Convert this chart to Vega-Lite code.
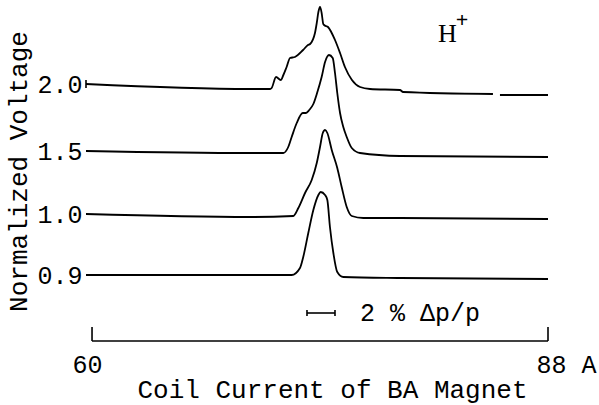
{
  "$schema": "https://vega.github.io/schema/vega-lite/v6.json",
  "width": 462,
  "height": 341,
  "autosize": "none",
  "padding": {"left": 86, "top": 0, "right": 51, "bottom": 64},
  "background": "white",
  "config": {"view": {"stroke": null}},
  "datasets": {
    "traces": [
      {"trace": "2.0", "seg": "2.0a", "a": 59.63, "v": 257},
      {"trace": "2.0", "seg": "2.0a", "a": 69.70, "v": 252},
      {"trace": "2.0", "seg": "2.0a", "a": 70.93, "v": 252},
      {"trace": "2.0", "seg": "2.0a", "a": 71.03, "v": 253},
      {"trace": "2.0", "seg": "2.0a", "a": 71.30, "v": 264},
      {"trace": "2.0", "seg": "2.0a", "a": 71.59, "v": 261},
      {"trace": "2.0", "seg": "2.0a", "a": 71.75, "v": 266},
      {"trace": "2.0", "seg": "2.0a", "a": 71.95, "v": 274},
      {"trace": "2.0", "seg": "2.0a", "a": 72.16, "v": 283},
      {"trace": "2.0", "seg": "2.0a", "a": 72.46, "v": 284},
      {"trace": "2.0", "seg": "2.0a", "a": 72.96, "v": 291},
      {"trace": "2.0", "seg": "2.0a", "a": 73.26, "v": 296},
      {"trace": "2.0", "seg": "2.0a", "a": 73.39, "v": 297},
      {"trace": "2.0", "seg": "2.0a", "a": 73.69, "v": 308},
      {"trace": "2.0", "seg": "2.0a", "a": 73.80, "v": 318},
      {"trace": "2.0", "seg": "2.0a", "a": 73.90, "v": 329},
      {"trace": "2.0", "seg": "2.0a", "a": 74.00, "v": 334},
      {"trace": "2.0", "seg": "2.0a", "a": 74.10, "v": 328},
      {"trace": "2.0", "seg": "2.0a", "a": 74.20, "v": 317},
      {"trace": "2.0", "seg": "2.0a", "a": 74.25, "v": 316},
      {"trace": "2.0", "seg": "2.0a", "a": 74.49, "v": 314},
      {"trace": "2.0", "seg": "2.0a", "a": 74.92, "v": 301},
      {"trace": "2.0", "seg": "2.0a", "a": 75.23, "v": 288},
      {"trace": "2.0", "seg": "2.0a", "a": 75.53, "v": 274},
      {"trace": "2.0", "seg": "2.0a", "a": 75.96, "v": 261},
      {"trace": "2.0", "seg": "2.0a", "a": 76.46, "v": 254},
      {"trace": "2.0", "seg": "2.0a", "a": 77.07, "v": 252},
      {"trace": "2.0", "seg": "2.0a", "a": 78.91, "v": 251},
      {"trace": "2.0", "seg": "2.0a", "a": 79.10, "v": 249},
      {"trace": "2.0", "seg": "2.0a", "a": 84.62, "v": 247},
      {"trace": "2.0", "seg": "2.0b", "a": 85.05, "v": 246},
      {"trace": "2.0", "seg": "2.0b", "a": 88.00, "v": 246},

      {"trace": "1.5", "seg": "1.5", "a": 59.63, "v": 190},
      {"trace": "1.5", "seg": "1.5", "a": 69.70, "v": 188},
      {"trace": "1.5", "seg": "1.5", "a": 71.75, "v": 188},
      {"trace": "1.5", "seg": "1.5", "a": 72.05, "v": 194},
      {"trace": "1.5", "seg": "1.5", "a": 72.26, "v": 204},
      {"trace": "1.5", "seg": "1.5", "a": 72.57, "v": 218},
      {"trace": "1.5", "seg": "1.5", "a": 72.94, "v": 228},
      {"trace": "1.5", "seg": "1.5", "a": 73.14, "v": 228},
      {"trace": "1.5", "seg": "1.5", "a": 73.34, "v": 231},
      {"trace": "1.5", "seg": "1.5", "a": 73.59, "v": 237},
      {"trace": "1.5", "seg": "1.5", "a": 73.82, "v": 248},
      {"trace": "1.5", "seg": "1.5", "a": 74.10, "v": 264},
      {"trace": "1.5", "seg": "1.5", "a": 74.31, "v": 279},
      {"trace": "1.5", "seg": "1.5", "a": 74.55, "v": 286},
      {"trace": "1.5", "seg": "1.5", "a": 74.78, "v": 283},
      {"trace": "1.5", "seg": "1.5", "a": 74.92, "v": 268},
      {"trace": "1.5", "seg": "1.5", "a": 75.06, "v": 248},
      {"trace": "1.5", "seg": "1.5", "a": 75.23, "v": 228},
      {"trace": "1.5", "seg": "1.5", "a": 75.43, "v": 214},
      {"trace": "1.5", "seg": "1.5", "a": 75.64, "v": 204},
      {"trace": "1.5", "seg": "1.5", "a": 75.95, "v": 193},
      {"trace": "1.5", "seg": "1.5", "a": 76.46, "v": 188},
      {"trace": "1.5", "seg": "1.5", "a": 78.91, "v": 185},
      {"trace": "1.5", "seg": "1.5", "a": 88.00, "v": 184},

      {"trace": "1.0", "seg": "1.0", "a": 59.63, "v": 127},
      {"trace": "1.0", "seg": "1.0", "a": 69.70, "v": 124},
      {"trace": "1.0", "seg": "1.0", "a": 72.36, "v": 125},
      {"trace": "1.0", "seg": "1.0", "a": 72.67, "v": 133},
      {"trace": "1.0", "seg": "1.0", "a": 73.08, "v": 148},
      {"trace": "1.0", "seg": "1.0", "a": 73.49, "v": 161},
      {"trace": "1.0", "seg": "1.0", "a": 73.80, "v": 178},
      {"trace": "1.0", "seg": "1.0", "a": 74.00, "v": 194},
      {"trace": "1.0", "seg": "1.0", "a": 74.17, "v": 208},
      {"trace": "1.0", "seg": "1.0", "a": 74.31, "v": 211},
      {"trace": "1.0", "seg": "1.0", "a": 74.45, "v": 208},
      {"trace": "1.0", "seg": "1.0", "a": 74.72, "v": 191},
      {"trace": "1.0", "seg": "1.0", "a": 75.06, "v": 173},
      {"trace": "1.0", "seg": "1.0", "a": 75.33, "v": 154},
      {"trace": "1.0", "seg": "1.0", "a": 75.64, "v": 134},
      {"trace": "1.0", "seg": "1.0", "a": 75.95, "v": 125},
      {"trace": "1.0", "seg": "1.0", "a": 76.66, "v": 123},
      {"trace": "1.0", "seg": "1.0", "a": 78.91, "v": 123},
      {"trace": "1.0", "seg": "1.0", "a": 88.00, "v": 122},

      {"trace": "0.9", "seg": "0.9", "a": 59.63, "v": 66},
      {"trace": "0.9", "seg": "0.9", "a": 69.70, "v": 66},
      {"trace": "0.9", "seg": "0.9", "a": 72.26, "v": 66},
      {"trace": "0.9", "seg": "0.9", "a": 72.77, "v": 73},
      {"trace": "0.9", "seg": "0.9", "a": 72.97, "v": 84},
      {"trace": "0.9", "seg": "0.9", "a": 73.28, "v": 108},
      {"trace": "0.9", "seg": "0.9", "a": 73.59, "v": 131},
      {"trace": "0.9", "seg": "0.9", "a": 73.90, "v": 146},
      {"trace": "0.9", "seg": "0.9", "a": 74.04, "v": 149},
      {"trace": "0.9", "seg": "0.9", "a": 74.31, "v": 146},
      {"trace": "0.9", "seg": "0.9", "a": 74.45, "v": 141},
      {"trace": "0.9", "seg": "0.9", "a": 74.61, "v": 114},
      {"trace": "0.9", "seg": "0.9", "a": 74.82, "v": 88},
      {"trace": "0.9", "seg": "0.9", "a": 75.06, "v": 69},
      {"trace": "0.9", "seg": "0.9", "a": 75.43, "v": 64},
      {"trace": "0.9", "seg": "0.9", "a": 78.91, "v": 63},
      {"trace": "0.9", "seg": "0.9", "a": 88.00, "v": 62}
    ],
    "hrules": [
      {"part": "bracket", "a": 60, "a2": 88, "v": 0},
      {"part": "scalebar", "a": 73.2, "a2": 74.92, "v": 28}
    ],
    "vrules": [
      {"part": "bracket", "a": 60, "v": 0, "v2": 14},
      {"part": "bracket", "a": 88, "v": 0, "v2": 14},
      {"part": "scalebar", "a": 73.2, "v": 25, "v2": 31},
      {"part": "scalebar", "a": 74.92, "v": 25, "v2": 31},
      {"part": "tick", "a": 59.63, "v": 253, "v2": 261}
    ]
  },
  "layer": [
    {
      "data": {"name": "traces"},
      "mark": {"type": "line", "color": "black", "strokeWidth": 1.8, "interpolate": "monotone"},
      "encoding": {
        "x": {
          "field": "a", "type": "quantitative",
          "scale": {"domain": [59.63, 88], "nice": false, "zero": false},
          "axis": {
            "values": [60, 88],
            "labelExpr": "datum.value == 88 ? '88 A' : '60'",
            "domain": false, "ticks": false, "tickSize": 0, "grid": false,
            "labelFlush": false, "labelOverlap": false,
            "labelFont": "Liberation Mono", "labelFontSize": 25, "labelColor": "black",
            "labelBaseline": "alphabetic", "labelPadding": 31, "labelAlign": "center",
            "labelOffset": {"condition": {"test": "datum.value == 88", "value": 18}, "value": -5},
            "title": "Coil Current of BA Magnet",
            "titleFont": "Liberation Mono", "titleFontSize": 26, "titleFontWeight": "normal",
            "titleColor": "black", "titleX": 246, "titleY": 56, "titleBaseline": "alphabetic",
            "titleAlign": "center"
          }
        },
        "y": {
          "field": "v", "type": "quantitative",
          "scale": {"domain": [0, 341], "nice": false, "zero": false},
          "axis": {
            "values": [66, 127, 190, 257],
            "labelExpr": "datum.value == 257 ? '2.0' : datum.value == 190 ? '1.5' : datum.value == 127 ? '1.0' : '0.9'",
            "domain": false, "ticks": false, "tickSize": 0, "grid": false,
            "labelFont": "Liberation Mono", "labelFontSize": 25, "labelColor": "black",
            "labelPadding": 4, "labelBaseline": "middle",
            "title": "Normalized Voltage",
            "titleFont": "Liberation Mono", "titleFontSize": 26, "titleFontWeight": "normal",
            "titleColor": "black", "titleX": -60, "titleY": 171, "titleAngle": 270,
            "titleAlign": "center", "titleBaseline": "alphabetic"
          }
        },
        "detail": {"field": "seg"},
        "order": {"field": "a", "type": "quantitative"}
      }
    },
    {
      "data": {"name": "hrules"},
      "mark": {"type": "rule", "color": "black", "strokeWidth": 1.6},
      "encoding": {
        "x": {"field": "a", "type": "quantitative"},
        "x2": {"field": "a2"},
        "y": {"field": "v", "type": "quantitative"}
      }
    },
    {
      "data": {"name": "vrules"},
      "mark": {"type": "rule", "color": "black", "strokeWidth": 1.6},
      "encoding": {
        "x": {"field": "a", "type": "quantitative"},
        "y": {"field": "v", "type": "quantitative"},
        "y2": {"field": "v2"}
      }
    },
    {
      "data": {"values": [{"a": 76.46, "v": 28, "text": "2 % Δp/p"}]},
      "mark": {"type": "text", "font": "Liberation Mono", "fontSize": 25, "align": "left", "baseline": "middle", "color": "black"},
      "encoding": {
        "x": {"field": "a", "type": "quantitative"},
        "y": {"field": "v", "type": "quantitative"},
        "text": {"field": "text"}
      }
    },
    {
      "data": {"values": [{"a": 81.25, "v": 299, "text": "H"}]},
      "mark": {"type": "text", "font": "Liberation Serif", "fontSize": 26, "align": "left", "baseline": "alphabetic", "color": "black"},
      "encoding": {
        "x": {"field": "a", "type": "quantitative"},
        "y": {"field": "v", "type": "quantitative"},
        "text": {"field": "text"}
      }
    },
    {
      "data": {"values": [{"a": 82.72, "v": 321, "text": "+"}]},
      "mark": {"type": "text", "font": "Liberation Serif", "fontSize": 22, "align": "center", "baseline": "middle", "color": "black", "fontWeight": "bold"},
      "encoding": {
        "x": {"field": "a", "type": "quantitative"},
        "y": {"field": "v", "type": "quantitative"},
        "text": {"field": "text"}
      }
    }
  ]
}
